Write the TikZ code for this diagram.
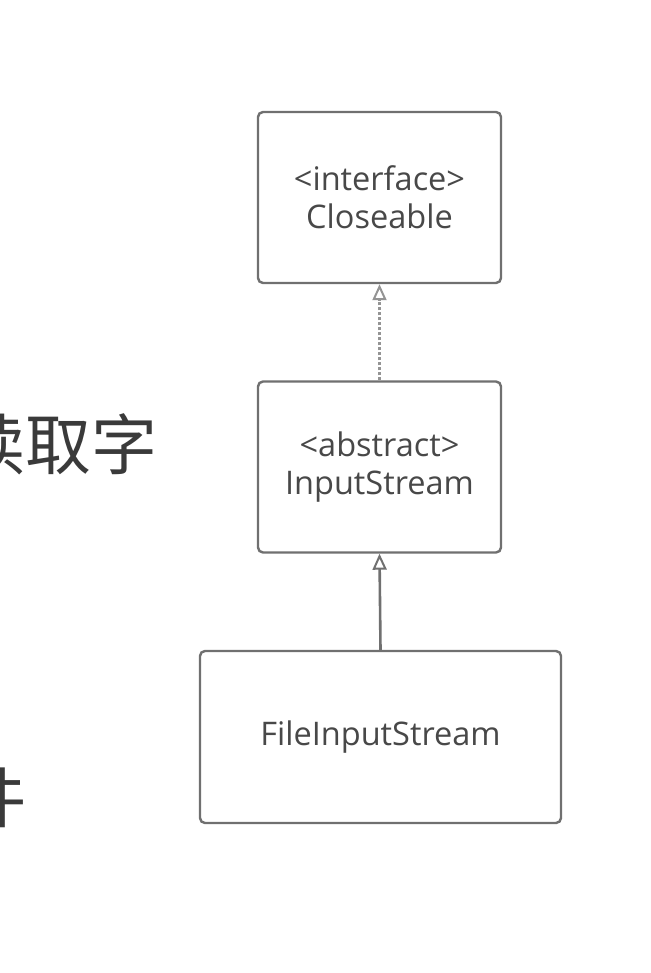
\documentclass[tikz,border=0pt]{standalone}
\usepackage{fontspec}
\setsansfont{Open Sans}
\newfontfamily\cjkfont{Noto Sans CJK SC}
\usetikzlibrary{arrows.meta}
\definecolor{umlink}{RGB}{72,72,72}
\definecolor{umlline}{RGB}{112,112,112}
\definecolor{slidetext}{RGB}{58,58,58}

\begin{document}
\begin{tikzpicture}[
    x=1pt, y=-1pt,
    font=\sffamily,
    % class boxes of the UML sketch
    classbox/.style={
        draw=umlline,
        line width=2.4pt,
        rounded corners=5pt,
        fill=white,
        align=center,
        inner sep=0pt,
        text=umlink,
        font=\sffamily\fontsize{32.5}{38}\selectfont,
        minimum width=243pt,
        minimum height=171pt
    },
    leafbox/.style={
        classbox,
        minimum width=361pt,
        minimum height=172pt
    },
    realize/.style={
        -{Triangle[open, length=16pt, width=14pt, line width=2pt]},
        draw=umlline!75, line width=2.2pt, dash pattern=on 3pt off 2pt
    },
    inherit/.style={
        -{Triangle[open, length=16pt, width=14pt, line width=2pt]},
        draw=umlline, line width=2.6pt
    },
    slide/.style={
        font=\cjkfont\fontsize{66}{66}\selectfont,
        text=slidetext,
        inner sep=0pt
    }
]
    \useasboundingbox[fill=white] (0,0) rectangle (650,973);
    \clip (0,0) rectangle (650,973);

    % slide text cut off at the left edge
    \node[slide, anchor=east] (readline) at (158,444) {读取字};
    \node[slide, anchor=east] (fileline) at (27,798) {件};

    \node[classbox] (closeable) at (379.5,197.5)
        {<interface>\\Closeable};
    \node[classbox] (inputstream) at (379.5,467)
        {<abstract>\\InputStream};
    \node[leafbox] (fileinput) at (380.5,737)
        {FileInputStream};

    \draw[realize] (inputstream.north) -- (closeable.south);
    \draw[inherit] (fileinput.north) -- (inputstream.south);
\end{tikzpicture}
\end{document}
